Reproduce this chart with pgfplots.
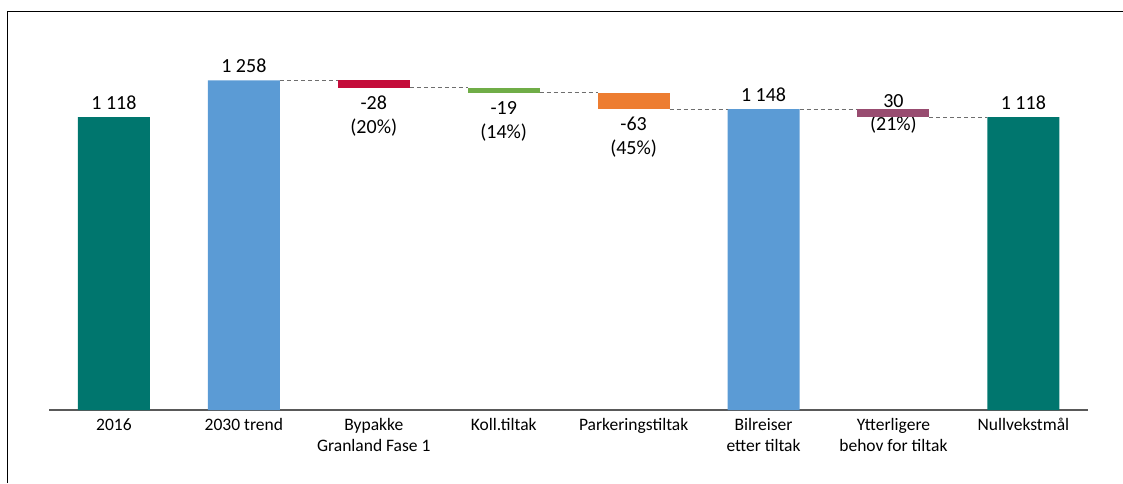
\documentclass[border=0pt]{standalone}
\usepackage{fontspec}
\setmainfont{Carlito}
\usepackage{pgfplots}
\usepackage{pgfplotstable}
\pgfplotsset{compat=1.18}

\definecolor{barteal}{RGB}{0,118,110}
\definecolor{barblue}{RGB}{91,155,213}
\definecolor{barred}{RGB}{196,12,58}
\definecolor{bargreen}{RGB}{112,173,71}
\definecolor{barorange}{RGB}{237,125,49}
\definecolor{barpurple}{RGB}{152,76,112}
\definecolor{axisgray}{RGB}{89,89,89}
\definecolor{linkgray}{RGB}{110,110,110}

\newcommand\ticksize{\fontsize{17.5}{21}\selectfont}
\newcommand\valsize{\fontsize{20}{24}\selectfont}

% Waterfall: invisible base + one visible series per colour
\pgfplotstableread{
x base teal blue red green orange purple
0 0    1118 0    0  0  0  0
1 0    0    1258 0  0  0  0
2 1230 0    0    28 0  0  0
3 1211 0    0    0  19 0  0
4 1148 0    0    0  0  63 0
5 0    0    1148 0  0  0  0
6 1118 0    0    0  0  0  30
7 0    1118 0    0  0  0  0
}\waterfall

\pgfplotsset{
  waterfall frame/.style={
    at={(49pt,73pt)}, anchor=south west, scale only axis,
    width=1039.4pt, height=366.8pt,
    xmin=-0.5, xmax=7.5, ymin=0, ymax=1400,
    clip=false,
  },
  link/.style={linkgray, line width=1pt, dash pattern=on 4pt off 3pt, no markers},
}

\begin{document}
\begin{tikzpicture}
\useasboundingbox (0,0) rectangle (1123pt,483pt);
\draw[black, line width=1pt] (7.5pt,0) -- (7.5pt,471.5pt) -- (1123pt,471.5pt);

\begin{axis}[waterfall frame,
  ybar stacked, bar width=0.554,
  axis x line*=bottom, axis y line=none,
  x axis line style={axisgray, line width=1.3pt, -},
  ytick=\empty,
  xtick={0,...,7}, major tick length=0pt,
  typeset ticklabels with strut,
  xticklabels={2016, 2030 trend, Bypakke\\Granland Fase 1, Koll.tiltak,
    Parkeringstiltak, Bilreiser\\etter tiltak, Ytterligere\\behov for tiltak, Nullvekstmål},
  xticklabel style={font=\ticksize, align=center, inner sep=0pt, anchor=north, yshift=-5.6pt},
]
\addplot[draw=none, fill=none] table[x=x, y=base] {\waterfall};
\addplot[draw=none, fill=barteal] table[x=x, y=teal] {\waterfall};
\addplot[draw=none, fill=barblue] table[x=x, y=blue] {\waterfall};
\addplot[draw=none, fill=barred] table[x=x, y=red] {\waterfall};
\addplot[draw=none, fill=bargreen] table[x=x, y=green] {\waterfall};
\addplot[draw=none, fill=barorange] table[x=x, y=orange] {\waterfall};
\addplot[draw=none, fill=barpurple] table[x=x, y=purple] {\waterfall};

% totals above their bars
\node[anchor=base, font=\valsize, yshift=7.5pt] at (axis cs:0,1118) {1~118};
\node[anchor=base, font=\valsize, yshift=7.5pt] at (axis cs:1,1258) {1~258};
\node[anchor=base, font=\valsize, yshift=7.5pt] at (axis cs:5,1148) {1~148};
\node[anchor=base, font=\valsize, yshift=7.5pt] at (axis cs:7,1118) {1~118};
% reductions below their bars
\node[anchor=base, font=\valsize, yshift=-21.5pt] at (axis cs:2,1230) {-28};
\node[anchor=base, font=\valsize, yshift=-45.5pt] at (axis cs:2,1230) {(20\%)};
\node[anchor=base, font=\valsize, yshift=-21.5pt] at (axis cs:3,1211) {-19};
\node[anchor=base, font=\valsize, yshift=-45.5pt] at (axis cs:3,1211) {(14\%)};
\node[anchor=base, font=\valsize, yshift=-21.5pt] at (axis cs:4,1148) {-63};
\node[anchor=base, font=\valsize, yshift=-45.5pt] at (axis cs:4,1148) {(45\%)};
% remaining need, around its bar
\node[anchor=base, font=\valsize, yshift=1.5pt] at (axis cs:6,1148) {30};
\node[anchor=base, font=\valsize, yshift=-13pt] at (axis cs:6,1118) {(21\%)};
\end{axis}

% dashed connectors between consecutive bar levels
\begin{axis}[waterfall frame, hide axis]
\addplot[link] coordinates {(1.277,1258) (1.723,1258)};
\addplot[link] coordinates {(2.277,1230) (2.723,1230)};
\addplot[link] coordinates {(3.277,1211) (3.723,1211)};
\addplot[link] coordinates {(4.277,1148) (4.723,1148)};
\addplot[link] coordinates {(5.277,1148) (5.723,1148)};
\addplot[link] coordinates {(6.277,1118) (6.723,1118)};
\end{axis}
\end{tikzpicture}
\end{document}
